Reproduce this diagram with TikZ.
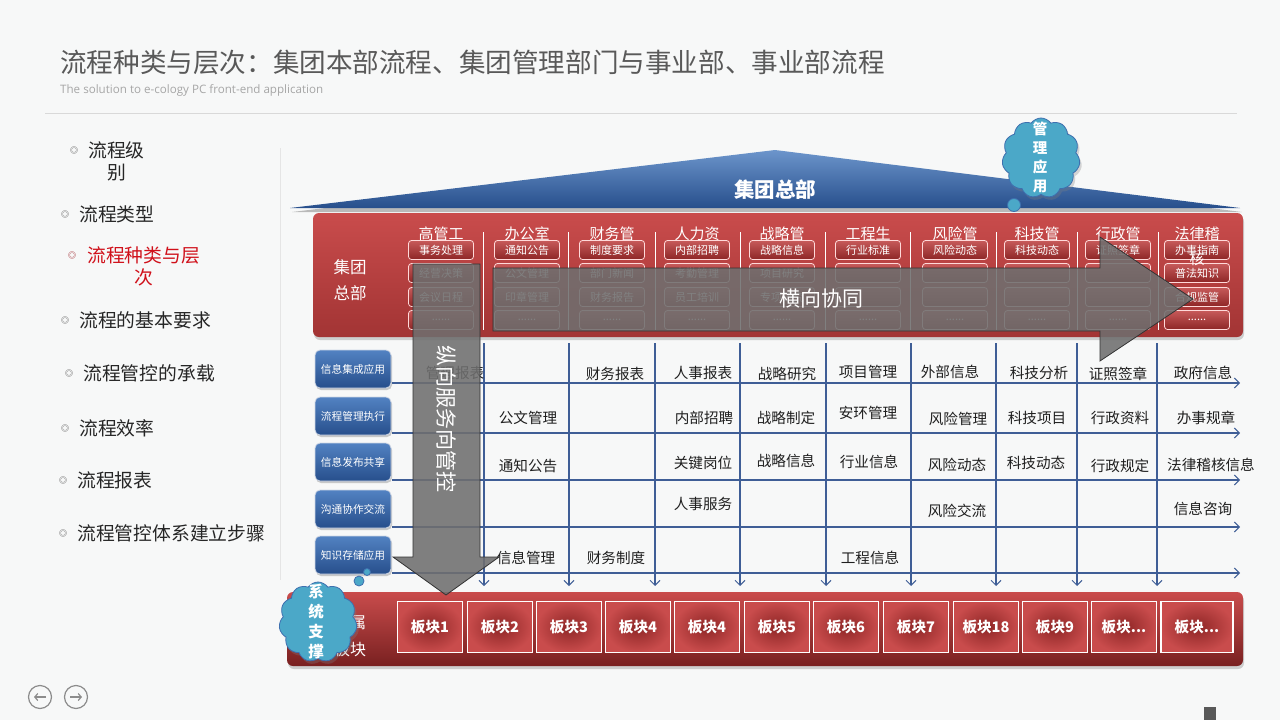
\documentclass[tikz,border=0pt]{standalone}
\usepackage{fontspec}
\setmainfont{Noto Sans CJK SC}
\newfontfamily\latinfont{Open Sans}
\usepackage{tikz}
\usetikzlibrary{arrows.meta, positioning, calc, shapes.symbols, shadows}
\definecolor{pagebg}{HTML}{F7F8F8}
\definecolor{titlegray}{HTML}{595959}
\definecolor{subgray}{HTML}{A6A6A6}
\definecolor{redtop}{HTML}{C94C4C}
\definecolor{redbot}{HTML}{A23434}
\definecolor{btntop}{HTML}{C65A5A}
\definecolor{btnbot}{HTML}{8E2626}
\definecolor{bluetop}{HTML}{5282C2}
\definecolor{bluebot}{HTML}{274F8C}
\definecolor{gridblue}{HTML}{3F5E96}
\definecolor{cloudfill}{HTML}{4BA8C8}
\definecolor{cloudline}{HTML}{3E6FAF}
\definecolor{menured}{HTML}{D0101A}
\definecolor{arrowgray}{HTML}{6F6F6F}

\begin{document}
\begin{tikzpicture}[x=1pt, y=-1pt,
    menu/.style={anchor=west, align=center, inner sep=0pt, font=\fontsize{18.8}{22}\selectfont, text=black!85},
    bullet/.style={inner sep=0pt, font=\fontsize{8}{8}\selectfont, text=black!75},
    dept/.style={inner sep=0pt, font=\fontsize{15}{15}\selectfont, text=white},
    hbtn/.style={rounded corners=3pt, draw=white!85!red, line width=0.8pt, top color=btntop, bottom color=btnbot, minimum width=65pt, minimum height=19pt, inner sep=0pt, font=\fontsize{11}{11}\selectfont, text=white},
    rowbtn/.style={rounded corners=5pt, draw=white!75!gridblue, line width=0.8pt, top color=bluetop, bottom color=bluebot, minimum width=76pt, minimum height=38pt, inner sep=0pt, font=\fontsize{10.7}{11}\selectfont, text=white, drop shadow={shadow xshift=1pt, shadow yshift=-2pt, opacity=.4}},
    cell/.style={inner sep=0pt, font=\fontsize{14.6}{15}\selectfont, text=black!88},
    module/.style={draw=white, line width=1.2pt, inner color=btnbot, outer color=redtop, minimum width=65pt, minimum height=51pt, inner sep=0pt, font=\bfseries\fontsize{14.6}{15}\selectfont, text=white},
    cloudy/.style={cloud, cloud puffs=11, cloud puff arc=110, aspect=1, draw=cloudline, line width=0.8pt, fill=cloudfill, minimum width=78pt, minimum height=80pt, inner sep=0pt, drop shadow={shadow xshift=2pt, shadow yshift=-3pt, opacity=.3}},
    bubble/.style={draw=cloudline, line width=0.8pt, fill=cloudfill},
    cloudtext/.style={align=center, inner sep=0pt, font=\bfseries\fontsize{14.5}{19}\selectfont, text=white},
    gridline/.style={draw=gridblue, line width=1.1pt, -{Straight Barb[length=5pt, width=10pt, line width=1pt]}},
    bigarrow/.style={draw=black!80, line width=0.8pt, fill=arrowgray, fill opacity=0.88},
    navbtn/.style={circle, draw=black!45, line width=1.2pt, minimum size=23pt, inner sep=0pt},
    navarrow/.style={draw=black!45, line width=1.2pt, -{Straight Barb[length=3pt, width=7pt]}},
  ]

\useasboundingbox (0,0) rectangle (1280,720);
\fill[pagebg] (0,0) rectangle (1280,720);

% Title
\node[anchor=west, inner sep=0pt, text=titlegray, font=\fontsize{26.6}{28}\selectfont] (title) at (60,62) {流程种类与层次：集团本部流程、集团管理部门与事业部、事业部流程};
\node[anchor=west, inner sep=0pt, text=subgray, font=\latinfont\fontsize{11.6}{13}\selectfont] (subtitle) at (60,90) {The solution to e-cology PC front-end application};
\draw[black!15, line width=1pt] (45,113) -- (1237,113);

% Menu
\draw[black!10, line width=1pt] (280,148) -- (280,580);
\node[bullet] (b1) at (74,150) {◎};
\node[menu] (m1) at (88,161) {流程级\\别};
\node[bullet] (b2) at (65,214) {◎};
\node[menu] (m2) at (79,214) {流程类型};
\node[bullet, text=menured!70!black] (b3) at (72,255) {◎};
\node[menu, text=menured] (m3) at (87,266) {流程种类与层\\次};
\node[bullet] (b4) at (65,320) {◎};
\node[menu] (m4) at (79,320) {流程的基本要求};
\node[bullet] (b5) at (69,373) {◎};
\node[menu] (m5) at (83,373) {流程管控的承载};
\node[bullet] (b6) at (65,428) {◎};
\node[menu] (m6) at (79,428) {流程效率};
\node[bullet] (b7) at (63,480) {◎};
\node[menu] (m7) at (77,480) {流程报表};
\node[bullet] (b8) at (63,533) {◎};
\node[menu] (m8) at (77,533) {流程管控体系建立步骤};

% Roof
\fill[black, opacity=.25] (292,212) -- (777,154) -- (1242,212) -- cycle;
\shade[top color=bluetop!85!white, bottom color=bluebot] (290,208) -- (775,150) -- (1240,208) -- cycle;
\node[font=\bfseries\fontsize{20.5}{21}\selectfont, text=white] (hq) at (775,190) {集团总部};

% Head office
\node[rounded corners=6pt, top color=redtop, bottom color=redbot, minimum width=930pt, minimum height=124pt, drop shadow={shadow xshift=1pt, shadow yshift=-3pt, opacity=.35}] (hdr) at (778,275) {};
\node[align=center, font=\fontsize{16.5}{26}\selectfont, text=white] (hdrlabel) at (350,280) {集团\\总部};
\foreach \x in {483,568,655,740,825,910,996,1077,1158}
  \draw[white, line width=1pt] (\x,232) -- (\x,330);
\foreach \x/\t/\a/\b/\c [count=\i] in {
    441/高管工/事务处理/经营决策/会议日程,
    527/办公室/通知公告/公文管理/印章管理,
    612/财务管/制度要求/部门新闻/财务报告,
    697/人力资/内部招聘/考勤管理/员工培训,
    782/战略管/战略信息/项目研究/专项研究,
    868/工程生/行业标准/{}/{},
    955/风险管/风险动态/{}/{},
    1037/科技管/科技动态/{}/{},
    1118/行政管/证照签章/{}/{},
    1197/法律稽/办事指南/普法知识/合规监管} {
  \node[dept] (dept\i) at (\x,234) {\t};
  \node[hbtn] (btn\i-1) at (\x,250) {\a};
  \node[hbtn] (btn\i-2) at (\x,273) {\b};
  \node[hbtn] (btn\i-3) at (\x,297) {\c};
  \node[hbtn] (btn\i-4) at (\x,320) {......};
}
\node[dept, text=white!85] (dept10b) at (1197,259) {核};

% Service rows
\foreach \y/\t [count=\i] in {369/信息集成应用, 416/流程管理执行, 462/信息发布共享, 509/沟通协作交流, 555/知识存储应用}
  \node[rowbtn] (row\i) at (353,\y) {\t};

% Grid
\foreach \y in {383,433,480,527,573}
  \draw[gridline] (392,\y) -- (1240,\y);
\foreach \x in {484,569,655,740,826,911,996,1077,1157}
  \draw[gridline] (\x,343) -- (\x,586);

% Row 1
\node[cell] (r1c1) at (455,373) {管理报表};
\node[cell] (r1c3) at (615,374) {财务报表};
\node[cell] (r1c4) at (703,373) {人事报表};
\node[cell] (r1c5) at (787,374) {战略研究};
\node[cell] (r1c6) at (868,372) {项目管理};
\node[cell] (r1c7) at (950,372) {外部信息};
\node[cell] (r1c8) at (1039,373) {科技分析};
\node[cell] (r1c9) at (1118,374) {证照签章};
\node[cell] (r1c10) at (1203,373) {政府信息};
% Row 2
\node[cell] (r2c2) at (528,418) {公文管理};
\node[cell] (r2c4) at (704,418) {内部招聘};
\node[cell] (r2c5) at (786,418) {战略制定};
\node[cell] (r2c6) at (868,413) {安环管理};
\node[cell] (r2c7) at (958,419) {风险管理};
\node[cell] (r2c8) at (1037,418) {科技项目};
\node[cell] (r2c9) at (1120,418) {行政资料};
\node[cell] (r2c10) at (1206,418) {办事规章};
% Row 3
\node[cell] (r3c2) at (528,466) {通知公告};
\node[cell] (r3c4) at (703,463) {关键岗位};
\node[cell] (r3c5) at (786,461) {战略信息};
\node[cell] (r3c6) at (869,462) {行业信息};
\node[cell] (r3c7) at (957,465) {风险动态};
\node[cell] (r3c8) at (1036,463) {科技动态};
\node[cell] (r3c9) at (1120,466) {行政规定};
\node[cell] (r3c10) at (1211,465) {法律稽核信息};
% Row 4
\node[cell] (r4c4) at (703,504) {人事服务};
\node[cell] (r4c7) at (957,511) {风险交流};
\node[cell] (r4c10) at (1203,509) {信息咨询};
% Row 5
\node[cell] (r5c2) at (526,558) {信息管理};
\node[cell] (r5c3) at (616,558) {财务制度};
\node[cell] (r5c6) at (870,558) {工程信息};

% Units
\node[rounded corners=6pt, top color=redtop, middle color=redtop!95!black, bottom color=btnbot!85!black, minimum width=956pt, minimum height=74pt, drop shadow={shadow xshift=1pt, shadow yshift=-3pt, opacity=.35}] (base) at (765,629) {};
\node[align=center, font=\fontsize{16}{27}\selectfont, text=white] (baselabel) at (350,636) {下属\\板块};
\foreach \x/\t [count=\i] in {430/板块1, 500/板块2, 569/板块3, 638/板块4, 707/板块4, 777/板块5, 846/板块6, 916/板块7, 986/板块18, 1055/板块9}
  \node[module] (mod\i) at (\x,627) {\t};
\node[module] (mod11) at (1124,627) {板块...};
\node[module, minimum width=72pt] (mod12) at (1197,627) {板块...};

% Big arrows
\filldraw[bigarrow] (413,264) -- (480,264) -- (480,557) -- (499,557) -- (446,595) -- (393,557) -- (413,557) -- cycle;
\node[rotate=-90, font=\fontsize{21}{21}\selectfont, text=white] (vlabel) at (447,419) {纵向服务向管控};
\filldraw[bigarrow] (493,268) -- (1100,268) -- (1100,237) -- (1193,299) -- (1100,361) -- (1100,331) -- (493,331) -- cycle;
\node[font=\fontsize{21}{21}\selectfont, text=white] (hlabel) at (821,299) {横向协同};

% Clouds
\node[cloudy] (cloudtop) at (1041,158) {};
\filldraw[bubble] (1014,205) circle (6.5);
\node[cloudtext] (cloudtoplabel) at (1040,157) {管\\理\\应\\用};
\node[cloudy] (cloudbot) at (318,622) {};
\filldraw[bubble] (359,581) circle (5);
\filldraw[bubble] (367,572) circle (3.5);
\node[cloudtext, font=\bfseries\fontsize{15.5}{20}\selectfont] (cloudbotlabel) at (316,622) {系\\统\\支\\撑};

% Navigation
\node[navbtn] (navprev) at (40,697) {};
\node[navbtn] (navnext) at (76,697) {};
\draw[navarrow] ($(navprev.center)+(6,0)$) -- ($(navprev.center)+(-6,0)$);
\draw[navarrow] ($(navnext.center)+(-6,0)$) -- ($(navnext.center)+(6,0)$);
\fill[black!65] (1204,707) rectangle (1216,720);

\end{tikzpicture}
\end{document}
